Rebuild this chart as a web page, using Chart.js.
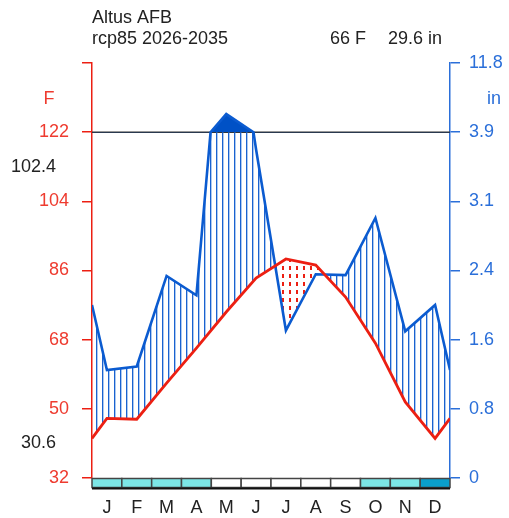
<!DOCTYPE html>
<html>
<head>
<meta charset="utf-8">
<script src="https://cdn.jsdelivr.net/npm/chart.js@4.4.0/dist/chart.umd.min.js"></script>
<style>
  html, body { margin: 0; padding: 0; background: #fff; }
</style>
</head>
<body>
<canvas id="climChart" width="509" height="518"></canvas>
<script>
const station = "Altus AFB";
const period = "rcp85 2026-2035";
const annualTemp = "66 F";
const annualPrecip = "29.6 in";
const warmMax = "102.4";
const coldMin = "30.6";

const months = ["J", "F", "M", "A", "M", "J", "J", "A", "S", "O", "N", "D"];
const tempF = [47.5, 47.3, 56.7, 65.8, 75.2, 84.0, 89.0, 87.4, 79.1, 67.1, 51.8, 42.3];
const precipIn = [1.23, 1.27, 2.30, 2.08, 6.00, 3.74, 1.68, 2.32, 2.31, 2.96, 1.67, 1.97];
// 0 = no frost, 1 = probable frost, 2 = sure frost
const frost = [1, 1, 1, 1, 0, 0, 0, 0, 0, 1, 1, 2];

const tempTicks = [32, 50, 68, 86, 104, 122, 140];
const tempTickLabels = ["32", "50", "68", "86", "104", "122", ""];
const precipTickLabels = ["0", "0.8", "1.6", "2.4", "3.1", "3.9", "11.8"];

const FONT = "'Liberation Sans', Arial, Helvetica, sans-serif";
const RED = "#ec1f12";
const RED_TXT = "#ee3b2f";
const BLUE = "#0b5bd0";
const BLUE_TXT = "#2b6fd9";

// precipitation (mm) onto the temperature axis: 20 mm per 18 F up to 100 mm, compressed above
function precipToAxis(mm) {
  return mm <= 100 ? 32 + mm * 0.9 : 122 + (mm - 100) * 0.09;
}

// months at the middle of each slot, wrapped at both edges
const xs = [0].concat(months.map((m, i) => i + 0.5), [12]);
const tWrap = [tempF[11]].concat(tempF, [tempF[0]]);
const pWrap = [precipIn[11]].concat(precipIn, [precipIn[0]]).map(p => p * 25.4);

const tempPts = xs.map((x, i) => ({ x: x, y: tWrap[i] }));

// precipitation polyline, with the 100 mm crossings added so the clipped and compressed parts meet
const precipFull = [];
const precipClip = [];
for (let i = 0; i < xs.length; i++) {
  if (i > 0 && (pWrap[i - 1] - 100) * (pWrap[i] - 100) < 0) {
    const t = (100 - pWrap[i - 1]) / (pWrap[i] - pWrap[i - 1]);
    const xc = xs[i - 1] + t * (xs[i] - xs[i - 1]);
    precipFull.push({ x: xc, y: 122 });
    precipClip.push({ x: xc, y: 122 });
  }
  const v = precipToAxis(pWrap[i]);
  precipFull.push({ x: xs[i], y: v });
  precipClip.push({ x: xs[i], y: Math.min(v, 122) });
}

function makePattern(w, h, draw) {
  const c = document.createElement("canvas");
  c.width = w;
  c.height = h;
  draw(c.getContext("2d"));
  return c.getContext("2d").createPattern(c, "repeat");
}

const ctx = document.getElementById("climChart").getContext("2d");
const hatch = makePattern(6, 6, g => {
  g.fillStyle = "#1a62d0";
  g.fillRect(0, 0, 1, 6);
  g.fillStyle = "rgba(70,135,220,0.45)";
  g.fillRect(1, 0, 1, 6);
});
const dots = makePattern(7, 8, g => {
  g.fillStyle = RED;
  g.fillRect(2, 2, 2, 4);
});

const decor = {
  id: "decor",
  beforeDatasetsDraw(chart) {
    const { ctx, chartArea: a, scales } = chart;
    const y = scales.yT.getPixelForValue(122);
    ctx.save();
    ctx.strokeStyle = "#333";
    ctx.lineWidth = 1.5;
    ctx.beginPath();
    ctx.moveTo(a.left, y);
    ctx.lineTo(a.right, y);
    ctx.stroke();
    ctx.restore();
  },
  afterDraw(chart) {
    const { ctx, chartArea: a, scales } = chart;
    const xS = scales.x, yS = scales.yT;
    ctx.save();

    // frost strip
    const top = a.bottom + 0.5, h = 9;
    for (let i = 0; i < 12; i++) {
      const x0 = xS.getPixelForValue(i), x1 = xS.getPixelForValue(i + 1);
      ctx.fillStyle = frost[i] === 2 ? "#0a9fcc" : frost[i] === 1 ? "#7ce6e6" : "#ffffff";
      ctx.fillRect(x0, top, x1 - x0, h);
      ctx.strokeStyle = "#444";
      ctx.lineWidth = 1.5;
      ctx.strokeRect(x0, top, x1 - x0, h);
    }
    ctx.strokeStyle = "#111";
    ctx.lineWidth = 2;
    ctx.beginPath();
    ctx.moveTo(a.left, top + h + 1);
    ctx.lineTo(a.right, top + h + 1);
    ctx.stroke();

    // titles
    ctx.font = "18px " + FONT;
    ctx.fillStyle = "#222";
    ctx.textBaseline = "alphabetic";
    ctx.textAlign = "left";
    ctx.fillText(station, 92, 23);
    ctx.fillText(period, 92, 44);
    ctx.fillText(annualTemp, 330, 44);
    ctx.fillText(annualPrecip, 388, 44);

    // extremes
    ctx.textAlign = "right";
    ctx.textBaseline = "middle";
    ctx.fillText(warmMax, 56, yS.getPixelForValue((122 + 104) / 2));
    ctx.fillText(coldMin, 56, yS.getPixelForValue((50 + 32) / 2));

    // axis units
    ctx.textAlign = "center";
    ctx.fillStyle = RED_TXT;
    ctx.fillText("F", 49, 99);
    ctx.fillStyle = BLUE_TXT;
    ctx.fillText("in", 494, 99);
    ctx.restore();
  }
};

new Chart(ctx, {
  type: "line",
  data: {
    datasets: [
      {
        label: "Temperature",
        data: tempPts,
        yAxisID: "yT",
        borderColor: RED,
        borderWidth: 2.8,
        pointRadius: 0,
        fill: false,
        order: 1
      },
      {
        label: "Precipitation",
        data: precipFull,
        yAxisID: "yT",
        borderColor: BLUE,
        borderWidth: 2.6,
        pointRadius: 0,
        fill: { target: { value: 122 }, above: "#0051c6", below: "rgba(0,0,0,0)" },
        order: 2
      },
      {
        label: "Precipitation clipped",
        data: precipClip,
        yAxisID: "yT",
        borderColor: "rgba(0,0,0,0)",
        borderWidth: 0,
        pointRadius: 0,
        fill: { target: 0, above: hatch, below: dots },
        order: 3
      }
    ]
  },
  options: {
    responsive: false,
    animation: false,
    devicePixelRatio: 1,
    layout: { padding: { top: 63, left: 0, right: 0, bottom: 0 } },
    elements: { line: { tension: 0 } },
    plugins: { legend: { display: false }, tooltip: { enabled: false } },
    scales: {
      x: {
        type: "linear",
        min: 0,
        max: 12,
        grid: { display: false, drawTicks: false },
        border: { display: false },
        afterBuildTicks: s => { s.ticks = months.map((m, i) => ({ value: i + 0.5 })); },
        ticks: {
          autoSkip: false,
          maxRotation: 0,
          padding: 19,
          color: "#222",
          font: { family: FONT, size: 18 },
          callback: (v, i) => months[i]
        },
        afterFit: s => { s.height = 40; }
      },
      yT: {
        position: "left",
        min: 32,
        max: 140,
        afterBuildTicks: s => { s.ticks = tempTicks.map(v => ({ value: v })); },
        ticks: {
          padding: 13,
          color: RED_TXT,
          font: { family: FONT, size: 18 },
          callback: (v, i) => tempTickLabels[i]
        },
        grid: { drawOnChartArea: false, color: RED, tickLength: 10, lineWidth: 1.5 },
        border: { color: RED, width: 1.5 },
        afterFit: s => { s.width = 92; }
      },
      yP: {
        position: "right",
        min: 32,
        max: 140,
        afterBuildTicks: s => { s.ticks = tempTicks.map(v => ({ value: v })); },
        ticks: {
          padding: 9,
          color: BLUE_TXT,
          font: { family: FONT, size: 18 },
          callback: (v, i) => precipTickLabels[i]
        },
        grid: { drawOnChartArea: false, color: BLUE_TXT, tickLength: 10, lineWidth: 1.5 },
        border: { color: BLUE_TXT, width: 1.5 },
        afterFit: s => { s.width = 59; }
      }
    }
  },
  plugins: [decor]
});
</script>
</body>
</html>
